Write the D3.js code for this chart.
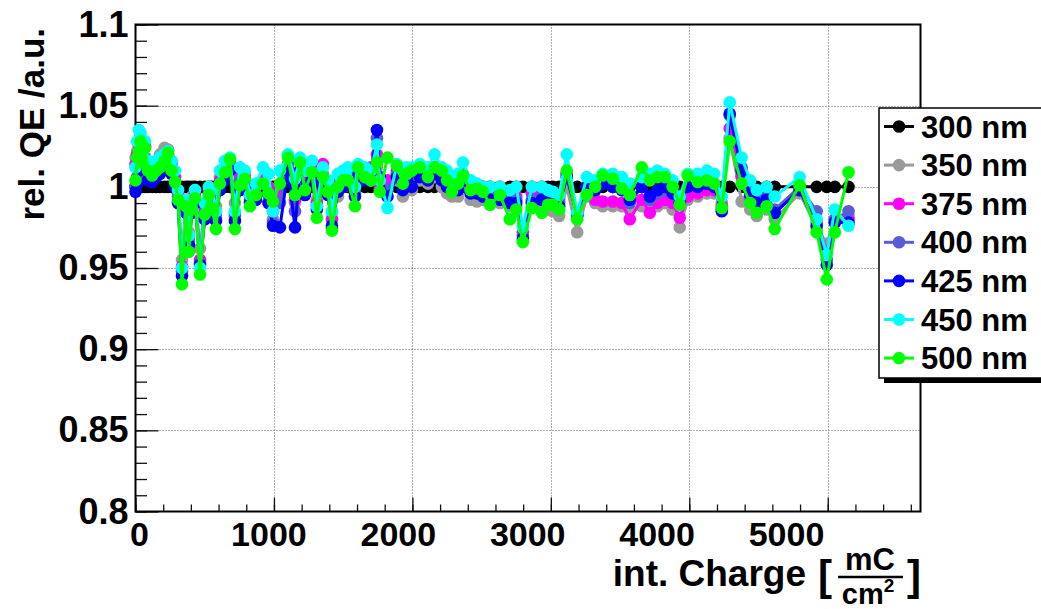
<!DOCTYPE html>
<html><head><meta charset="utf-8">
<script src="https://cdn.jsdelivr.net/npm/d3@7"></script>
<style>
body{margin:0;background:#fff}
svg{display:block}
text{font-family:"Liberation Sans",Arial,Helvetica,sans-serif;font-weight:bold;fill:#000}
</style>
</head><body>
<svg id="c" width="1041" height="609"></svg>
<script>
// ---- data ----
const charge = [
0,12,24,36,50,69,90,120,150,177,
210,235,260,285,307,336,365,385,408,430,
466,500,530,552,581,610,646,682,718,755,
790,827,870,921,960,993,1043,1101,1152,1188,
1224,1274,1310,1354,1390,1419,1462,1500,1534,1585,
1607,1657,1700,1744,1765,1820,1888,1931,1960,1996,
2054,2112,2160,2213,2250,2285,2330,2365,2420,2466,
2510,2560,2632,2704,2750,2798,2863,2935,2980,3014,
3060,3115,3190,3260,3320,3375,3448,3513,3570,3657,
3715,3770,3823,3880,3931,3989,4061,4127,4180,4235,
4292,4378,4440,4487,4559,4617,4797,4920,4993,5051,
5150];

const qe300 = [
1,1,1,1,1,1,1,1,1,1,
1,1,1,1,1,1,1,1,1,1,
1,1,1,1,1,1,1,1,1,1,
1,1,1,1,1,1,1,1,1,1,
1,1,1,1,1,1,1,1,1,1,
1,1,1,1,1,1,1,1,1,1,
1,1,1,1,1,1,1,1,1,1,
1,1,1,1,1,1,1,1,1,1,
1,1,1,1,1,1,1,1,1,1,
1,1,1,1,1,1,1,1,1,1,
1,1,1,1,1,1,1,1,1,1,
1];

const qe350 = [
1.018,1.022,1.024,1.026,1.020,1.018,1.010,1.008,1.014,1.020,
1.024,1.023,1.016,1.006,0.998,0.955,0.992,0.972,0.994,0.998,
0.962,0.988,0.998,0.995,0.988,1.006,1.012,1.016,0.990,1.010,
1.008,0.996,1.000,1.004,1.000,0.980,0.996,1.006,0.990,1.008,
1.000,1.010,0.992,1.008,0.996,0.984,0.994,1.000,1.004,1.000,
1.008,1.006,1.004,1.012,0.998,1.002,1.004,0.994,1.002,0.998,
1.004,1.002,1.006,1.000,0.996,0.994,0.994,1.002,0.992,0.991,
0.992,0.992,0.990,0.988,0.988,0.976,0.990,0.988,0.986,0.985,
0.982,1.000,0.972,0.994,0.990,0.988,0.988,0.988,0.986,0.988,
0.986,0.988,0.990,0.986,0.975,0.992,0.994,0.996,0.996,0.990,
1.030,0.991,0.986,0.982,0.986,0.980,0.996,0.975,0.965,0.980,
0.982];

const qe375 = [
1.014,1.020,1.026,1.030,1.027,1.025,1.012,1.010,1.012,1.014,
1.016,1.020,1.012,1.006,0.996,0.951,0.990,0.968,0.990,0.996,
0.955,0.986,0.996,0.992,0.984,1.004,1.010,1.015,0.984,1.006,
1.006,0.994,0.998,1.004,1.000,0.985,0.998,1.012,0.992,1.010,
1.004,1.012,0.990,1.014,1.000,0.980,1.002,1.004,1.006,0.998,
1.010,1.010,1.012,1.020,1.000,1.004,1.010,1.004,1.008,1.006,
1.010,1.008,1.012,1.008,1.004,1.002,1.002,1.008,1.000,0.998,
0.996,0.995,0.996,0.994,0.994,0.972,0.996,0.995,0.994,0.994,
0.992,1.008,0.984,0.996,0.992,0.991,0.991,0.990,0.980,0.992,
0.984,0.990,0.992,0.990,0.981,0.994,0.996,0.998,0.998,0.988,
1.036,1.006,0.994,0.990,0.992,0.984,0.998,0.978,0.960,0.978,
0.980];

const qe400 = [
1.000,1.006,1.015,1.020,1.016,1.018,1.008,1.006,1.010,1.012,
1.018,1.022,1.014,1.004,0.994,0.948,0.987,0.966,0.988,0.994,
0.953,0.984,0.994,0.990,0.981,1.002,1.008,1.014,0.982,1.004,
1.004,0.992,0.996,1.002,0.995,0.978,0.990,1.014,0.985,1.016,
1.000,1.008,0.988,1.006,0.998,0.974,1.000,1.002,1.004,0.996,
1.008,1.006,1.010,1.030,1.004,0.998,1.008,1.002,1.006,1.004,
1.008,1.006,1.010,1.006,1.002,1.000,1.000,1.006,0.998,0.998,
0.996,0.994,0.994,0.993,0.992,0.970,0.992,0.994,0.992,0.992,
0.990,1.008,0.982,1.000,0.998,1.002,1.000,0.998,0.990,1.000,
0.992,0.996,0.998,0.996,0.990,1.000,1.000,1.002,1.002,0.986,
1.044,1.012,0.998,0.992,0.994,0.986,1.000,0.985,0.955,0.980,
0.985];

const qe425 = [
0.997,1.002,1.010,1.018,1.012,1.015,1.004,1.003,1.006,1.008,
1.012,1.016,1.008,1.000,0.990,0.945,0.984,0.964,0.984,0.990,
0.952,0.980,0.990,0.985,0.979,0.998,1.004,1.010,0.979,0.998,
1.000,0.990,0.992,0.998,0.990,0.976,0.975,1.010,0.975,1.010,
0.995,1.004,0.986,1.002,0.995,0.976,0.997,1.000,1.002,0.994,
1.006,1.004,1.008,1.035,1.006,0.994,1.006,0.998,1.004,1.000,
1.006,1.004,1.008,1.004,1.000,0.998,0.998,1.004,0.996,0.996,
0.994,0.992,0.992,0.990,0.990,0.968,0.990,0.992,0.990,0.990,
0.988,1.006,0.982,1.000,0.998,1.002,1.000,0.998,0.992,1.000,
0.994,0.998,1.000,0.996,0.990,1.000,1.000,1.002,1.000,0.985,
1.045,1.010,0.995,0.990,0.992,0.984,0.998,0.976,0.952,0.978,
0.978];

const qe450 = [
1.012,1.028,1.035,1.033,1.025,1.028,1.016,1.012,1.016,1.018,
1.020,1.022,1.016,1.010,0.998,0.950,0.992,0.970,0.992,0.998,
0.950,0.990,1.000,0.998,0.985,1.010,1.016,1.018,0.985,1.012,
1.010,0.995,1.002,1.012,1.008,0.985,1.010,1.020,1.005,1.018,
1.010,1.016,0.988,1.012,1.004,0.985,1.008,1.010,1.012,1.000,
1.014,1.012,1.010,1.026,1.004,0.987,1.014,1.010,1.012,1.012,
1.014,1.012,1.020,1.012,1.010,1.004,1.008,1.015,1.004,1.002,
1.000,1.000,1.000,0.998,1.000,0.975,1.000,1.000,0.998,0.997,
0.995,1.020,0.984,1.006,1.004,1.008,1.008,1.006,1.002,1.006,
1.008,1.010,1.008,1.004,0.994,1.008,1.008,1.010,1.008,0.994,
1.052,1.018,1.004,0.998,1.000,0.994,1.006,0.980,0.958,0.986,
0.976];

const qe500 = [
1.004,1.018,1.022,1.028,1.015,1.024,1.010,1.007,1.010,1.012,
1.016,1.021,1.010,1.003,0.992,0.940,0.988,0.960,0.986,0.993,
0.946,0.983,0.995,0.987,0.974,1.002,1.009,1.017,0.974,1.001,
1.005,0.988,0.995,1.002,0.996,0.991,1.002,1.018,0.995,1.015,
0.998,1.009,0.981,1.006,0.997,0.973,1.000,1.004,1.004,0.988,
1.012,1.006,1.004,1.015,0.997,1.018,1.013,1.002,1.008,1.010,
1.012,1.006,1.012,1.010,1.004,0.997,1.002,1.007,0.998,0.999,
0.997,0.989,0.995,0.980,0.986,0.966,0.987,0.984,0.989,0.989,
0.986,1.010,0.980,0.995,1.000,1.007,1.005,0.999,0.995,1.012,
1.004,1.006,1.006,1.000,0.989,1.007,1.003,1.004,1.002,0.987,
1.028,1.002,0.990,0.984,0.988,0.974,1.001,0.972,0.943,0.972,
1.009];

const seriesNames  = ["300 nm","350 nm","375 nm","400 nm","425 nm","450 nm","500 nm"];
const seriesValues = [qe300, qe350, qe375, qe400, qe425, qe450, qe500];
const seriesColors = ["#000000","#9a9a9a","#ff00ff","#5b5bd8","#0000ff","#00ffff","#00ff00"];

const yMajorTicks  = [0.8, 0.85, 0.9, 0.95, 1, 1.05, 1.1];
const yTickLabels  = ["0.8","0.85","0.9","0.95","1","1.05","1.1"];
const xMajorTicks  = [0, 1000, 2000, 3000, 4000, 5000];
const xTickLabels  = ["0","1000","2000","3000","4000","5000"];

// ---- layout ----
const svg = d3.select("#c");
const L = 135.5, R = 920.5, T = 24.5, B = 511.5;
const x = d3.scaleLinear().domain([0, 5670]).range([L, R]);
const y = d3.scaleLinear().domain([0.8, 1.1]).range([B, T]);
// the reference prints its x labels on a slightly compressed spacing
const xLabelScale = d3.scaleLinear().domain([0, 5000]).range([139, 786]);

svg.append("rect").attr("width",1041).attr("height",609).attr("fill","#fff");

// grid
const grid = svg.append("g").attr("stroke","#666").attr("stroke-width",1).attr("stroke-dasharray","1,2");
xMajorTicks.filter(v => v > 0).forEach(v => {
  grid.append("line").attr("x1",Math.round(x(v))+0.5).attr("x2",Math.round(x(v))+0.5).attr("y1",T).attr("y2",B);
});
yMajorTicks.filter(v => v > 0.8 && v < 1.1).forEach(v => {
  grid.append("line").attr("x1",L).attr("x2",R).attr("y1",Math.round(y(v))+0.5).attr("y2",Math.round(y(v))+0.5);
});

// axes
const yMinor = d3.range(80, 111).map(d => d / 100);
const xMinor = d3.range(0, 5601, 200);

const yMinG = svg.append("g").attr("transform",`translate(${L},0)`)
  .call(d3.axisLeft(y).tickValues(yMinor).tickSize(-11.5).tickFormat(""));
const yMajG = svg.append("g").attr("transform",`translate(${L},0)`)
  .call(d3.axisLeft(y).tickValues(yMajorTicks).tickSize(-23).tickPadding(7)
        .tickFormat((d,i) => yTickLabels[i]));
const xMinG = svg.append("g").attr("transform",`translate(0,${B})`)
  .call(d3.axisBottom(x).tickValues(xMinor).tickSize(-7).tickFormat(""));
const xMajG = svg.append("g").attr("transform",`translate(0,${B})`)
  .call(d3.axisBottom(x).tickValues(xMajorTicks).tickSize(-14).tickFormat(""));
const xLabG = svg.append("g").attr("transform",`translate(0,${B})`)
  .call(d3.axisBottom(xLabelScale).tickValues(xMajorTicks).tickSize(0).tickPadding(10)
        .tickFormat((d,i) => xTickLabels[i]));
xLabG.selectAll(".tick line").remove();

[yMinG, yMajG, xMinG, xMajG, xLabG].forEach(g => {
  g.select(".domain").remove();
  g.selectAll(".tick line").attr("stroke","#111").attr("stroke-width",1.3);
  g.selectAll("text").attr("font-family",null).attr("font-size",null);
});
yMajG.selectAll("text").style("font-size","36px");
xLabG.selectAll("text").style("font-size","34px");

// frame
svg.append("rect").attr("x",L).attr("y",T).attr("width",R-L).attr("height",B-T)
  .attr("fill","none").attr("stroke","#000").attr("stroke-width",2);

// data
const line = d3.line().x((d,i) => x(charge[i])).y(d => y(d));
seriesValues.forEach((vals, s) => {
  const g = svg.append("g");
  g.append("path").attr("d", line(vals)).attr("fill","none")
    .attr("stroke", seriesColors[s]).attr("stroke-width",3).attr("stroke-linejoin","round");
  g.selectAll("circle").data(vals).enter().append("circle")
    .attr("cx",(d,i) => x(charge[i])).attr("cy", d => y(d)).attr("r",6.3)
    .attr("fill", seriesColors[s]);
});

// legend
const lg = svg.append("g");
lg.append("rect").attr("x",884).attr("y",113).attr("width",170).attr("height",270).attr("fill","#000");
lg.append("rect").attr("x",879).attr("y",108).attr("width",170).attr("height",270)
  .attr("fill","#fff").attr("stroke","#000").attr("stroke-width",1.5);
seriesNames.forEach((name, s) => {
  const cy = 126.5 + s * 38.6;
  lg.append("line").attr("x1",884).attr("x2",914).attr("y1",cy).attr("y2",cy)
    .attr("stroke",seriesColors[s]).attr("stroke-width",3);
  lg.append("circle").attr("cx",899).attr("cy",cy).attr("r",6.3).attr("fill",seriesColors[s]);
  lg.append("text").attr("x",921).attr("y",cy).attr("dy","0.36em")
    .style("font-size","31px").text(name);
});

// axis titles
svg.append("text").attr("transform","translate(44,28) rotate(-90)")
  .attr("text-anchor","end").style("font-size","35px").text("rel. QE /a.u.");

svg.append("text").attr("x",806).attr("y",586).attr("text-anchor","end")
  .style("font-size","37px").text("int. Charge");
svg.append("text").attr("x",818).attr("y",590).style("font-size","42px").text("[");
svg.append("text").attr("x",870).attr("y",570).attr("text-anchor","middle")
  .style("font-size","31px").text("mC");
svg.append("line").attr("x1",838).attr("x2",903).attr("y1",577).attr("y2",577)
  .attr("stroke","#000").attr("stroke-width",2.5);
const cm = svg.append("text").attr("x",868).attr("y",604).attr("text-anchor","middle")
  .style("font-size","29px");
cm.append("tspan").text("cm");
cm.append("tspan").attr("dy","-12").style("font-size","19px").text("2");
svg.append("text").attr("x",907).attr("y",590).style("font-size","42px").text("]");
</script>
</body></html>
